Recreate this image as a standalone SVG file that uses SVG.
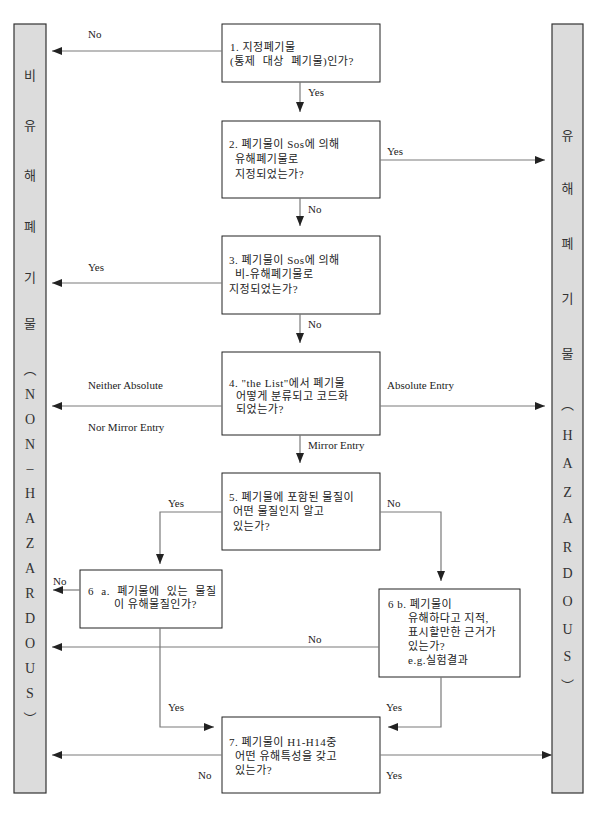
<svg xmlns="http://www.w3.org/2000/svg" width="597" height="822" viewBox="0 0 597 822">
<style>
.bar{fill:#dcdcdc;stroke:#333;stroke-width:1.2}
.box{fill:#fff;stroke:#222;stroke-width:1}
.ln{fill:none;stroke:#7a7a7a;stroke-width:1.2}
.t{font-family:"Liberation Serif","Noto Sans CJK KR",serif;font-size:11px;fill:#222;letter-spacing:0.5px}
.lb{font-family:"Liberation Serif","Noto Sans CJK KR",serif;font-size:11px;fill:#222}
.v{font-family:"Liberation Serif","Noto Sans CJK KR",serif;font-size:14px;fill:#333;text-anchor:middle}
.vk{font-family:"Noto Sans CJK KR",sans-serif;font-size:13px;fill:#333;text-anchor:middle}
.ws{word-spacing:4px}
</style>
<defs>
<marker id="ah" markerUnits="userSpaceOnUse" markerWidth="10" markerHeight="8" refX="10" refY="4" orient="auto">
<path d="M0,0 L10,4 L0,8 z" fill="#222"/>
</marker>
</defs>
<rect width="597" height="822" fill="#fff"/>

<g id="nonhaz">
<rect class="bar" x="14" y="24" width="32" height="769"/>
<text class="vk" x="30" y="80">비</text>
<text class="vk" x="30" y="130">유</text>
<text class="vk" x="30" y="180">해</text>
<text class="vk" x="30" y="231">폐</text>
<text class="vk" x="30" y="282">기</text>
<text class="vk" x="30" y="328">물</text>
<text class="vk" x="30" y="374">︵</text>
<text class="v" x="30" y="399">N</text>
<text class="v" x="30" y="424">O</text>
<text class="v" x="30" y="449">N</text>
<text class="v" x="30" y="473">–</text>
<text class="v" x="30" y="498">H</text>
<text class="v" x="30" y="523">A</text>
<text class="v" x="30" y="548">Z</text>
<text class="v" x="30" y="573">A</text>
<text class="v" x="30" y="598">R</text>
<text class="v" x="30" y="623">D</text>
<text class="v" x="30" y="648">O</text>
<text class="v" x="30" y="673">U</text>
<text class="v" x="30" y="698">S</text>
<text class="vk" x="30" y="723">︶</text>
</g>

<g id="haz">
<rect class="bar" x="552" y="24" width="31" height="769"/>
<text class="vk" x="567.5" y="140">유</text>
<text class="vk" x="567.5" y="193">해</text>
<text class="vk" x="567.5" y="248">폐</text>
<text class="vk" x="567.5" y="303">기</text>
<text class="vk" x="567.5" y="358">물</text>
<text class="vk" x="567.5" y="409">︵</text>
<text class="v" x="567.5" y="440">H</text>
<text class="v" x="567.5" y="468">A</text>
<text class="v" x="567.5" y="497">Z</text>
<text class="v" x="567.5" y="523">A</text>
<text class="v" x="567.5" y="552">R</text>
<text class="v" x="567.5" y="578">D</text>
<text class="v" x="567.5" y="606">O</text>
<text class="v" x="567.5" y="634">U</text>
<text class="v" x="567.5" y="661">S</text>
<text class="vk" x="567.5" y="690">︶</text>
</g>

<g id="q1">
<rect class="box" x="222" y="24" width="158" height="58"/>
<text class="t" x="230" y="51">1. 지정폐기물</text>
<text class="t ws" x="230" y="65">(통제 대상 폐기물)인가?</text>
</g>
<g id="q2">
<rect class="box" x="222" y="121" width="158" height="77"/>
<text class="t" x="229" y="148">2. 폐기물이 Sos에 의해</text>
<text class="t" x="235" y="163">유해폐기물로</text>
<text class="t" x="235" y="178">지정되었는가?</text>
</g>
<g id="q3">
<rect class="box" x="222" y="236" width="158" height="78"/>
<text class="t" x="229" y="264">3. 폐기물이 Sos에 의해</text>
<text class="t" x="235" y="278">비-유해폐기물로</text>
<text class="t" x="229" y="293">지정되었는가?</text>
</g>
<g id="q4">
<rect class="box" x="222" y="352" width="158" height="83"/>
<text class="t" x="229" y="387">4. "the List"에서 폐기물</text>
<text class="t" x="236" y="400">어떻게 분류되고 코드화</text>
<text class="t" x="236" y="413">되었는가?</text>
</g>
<g id="q5">
<rect class="box" x="222" y="473" width="158" height="77"/>
<text class="t" x="229" y="501">5. 폐기물에 포함된 물질이</text>
<text class="t" x="233" y="515">어떤 물질인지 알고</text>
<text class="t" x="233" y="530">있는가?</text>
</g>
<g id="q6a">
<rect class="box" x="80" y="570" width="142" height="58"/>
<text class="t ws" x="88" y="595">6 a. 폐기물에 있는 물질</text>
<text class="t" x="114" y="608">이 유해물질인가?</text>
</g>
<g id="q6b">
<rect class="box" x="379" y="589" width="141" height="88"/>
<text class="t" x="388" y="608">6 b. 폐기물이</text>
<text class="t" x="408" y="622">유해하다고 지적,</text>
<text class="t" x="408" y="636">표시할만한 근거가</text>
<text class="t" x="408" y="650">있는가?</text>
<text class="t" x="408" y="664">e.g.실험결과</text>
</g>
<g id="q7">
<rect class="box" x="222" y="717" width="158" height="76"/>
<text class="t" x="229" y="746">7. 폐기물이 H1-H14중</text>
<text class="t" x="235" y="760">어떤 유해특성을 갖고</text>
<text class="t" x="235" y="774">있는가?</text>
</g>

<g id="connectors">
<path class="ln" d="M222,51 H52" marker-end="url(#ah)"/>
<path class="ln" d="M300,82 V112" marker-end="url(#ah)"/>
<path class="ln" d="M380,160 H545" marker-end="url(#ah)"/>
<path class="ln" d="M300,198 V226" marker-end="url(#ah)"/>
<path class="ln" d="M222,283 H52" marker-end="url(#ah)"/>
<path class="ln" d="M300,314 V343" marker-end="url(#ah)"/>
<path class="ln" d="M222,406 H52" marker-end="url(#ah)"/>
<path class="ln" d="M380,406 H545" marker-end="url(#ah)"/>
<path class="ln" d="M300,435 V463" marker-end="url(#ah)"/>
<path class="ln" d="M222,512 H160 V564" marker-end="url(#ah)"/>
<path class="ln" d="M380,512 H441 V581" marker-end="url(#ah)"/>
<path class="ln" d="M80,590 H53" marker-end="url(#ah)"/>
<path class="ln" d="M379,647 H52" marker-end="url(#ah)"/>
<path class="ln" d="M160,628 V727 H214" marker-end="url(#ah)"/>
<path class="ln" d="M441,677 V727 H388" marker-end="url(#ah)"/>
<path class="ln" d="M222,755 H52" marker-end="url(#ah)"/>
<path class="ln" d="M380,755 H552" marker-end="url(#ah)"/>

<text class="lb" x="88" y="38">No</text>
<text class="lb" x="308" y="96">Yes</text>
<text class="lb" x="387" y="155">Yes</text>
<text class="lb" x="308" y="213">No</text>
<text class="lb" x="88" y="271">Yes</text>
<text class="lb" x="308" y="328">No</text>
<text class="lb" x="88" y="389">Neither Absolute</text>
<text class="lb" x="88" y="431">Nor Mirror Entry</text>
<text class="lb" x="387" y="389">Absolute Entry</text>
<text class="lb" x="308" y="449">Mirror Entry</text>
<text class="lb" x="168" y="507">Yes</text>
<text class="lb" x="387" y="507">No</text>
<text class="lb" x="53" y="585">No</text>
<text class="lb" x="308" y="643">No</text>
<text class="lb" x="168" y="711">Yes</text>
<text class="lb" x="386" y="711">Yes</text>
<text class="lb" x="198" y="779">No</text>
<text class="lb" x="386" y="779">Yes</text>
</g>
</svg>
